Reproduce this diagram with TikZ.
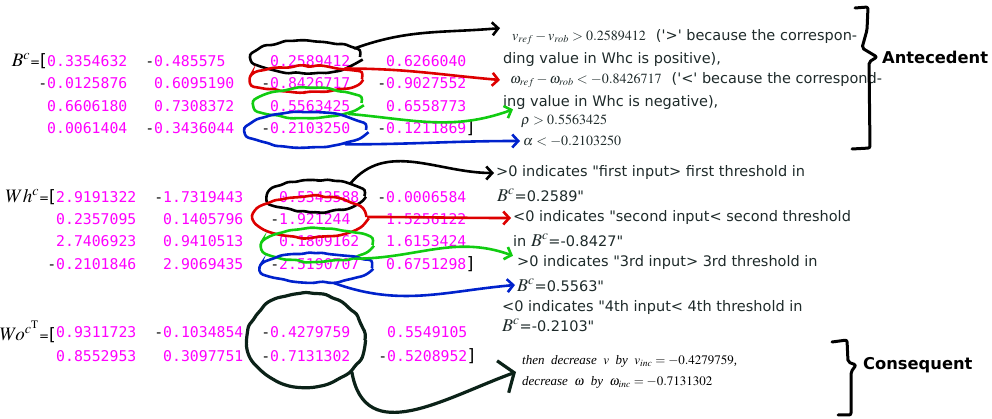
\documentclass[tikz,border=0pt]{standalone}
\usepackage{mathptmx}
\usepackage[no-math]{fontspec}
\setmainfont{DejaVu Sans}
\newfontfamily\numfont{DejaVu Sans Mono}
\newfontfamily\timesfont{Liberation Serif}
\usepackage{tikz}
\usetikzlibrary{shapes.geometric,arrows.meta,decorations.pathmorphing}

\definecolor{entrymag}{HTML}{FF00FF}
\definecolor{inkred}{HTML}{DD0000}
\definecolor{inkgreen}{HTML}{11CC11}
\definecolor{inkblue}{HTML}{0022CC}
\definecolor{inkdark}{HTML}{0B2218}
\definecolor{note}{HTML}{1E2A2A}

\newcommand{\negsign}{\llap{\textcolor{black}{-}}}
\newcommand{\notesize}{\fontsize{14.5}{17}\selectfont}
\newcommand{\mathsize}{\fontsize{14}{16}\selectfont}
\newcommand{\Bc}{{\fontsize{18}{20}\selectfont$B^{c}$}}
\newcommand{\dq}{\textquotedbl}

\begin{document}
\begin{tikzpicture}[
    x=1pt, y=1pt,
    entry/.style={anchor=west, inner sep=0pt, text=entrymag, font=\numfont\fontsize{14.8}{17}\selectfont},
    mlabel/.style={anchor=east, inner sep=0pt, font=\fontsize{19}{21}\selectfont},
    line/.style={anchor=west, inner sep=0pt, text=note, font=\notesize},
    ring/.style={ellipse, draw=#1, line width=2.6pt, inner sep=0pt,
        decorate, decoration={random steps, segment length=7pt, amplitude=1.2pt}, rounded corners=3pt},
    ink/.style={draw=#1, line width=2.6pt, line cap=round, line join=round,
        -{Straight Barb[length=6pt, width=13pt]}},
    brace/.style={draw=black, line width=3pt, line cap=round, line join=round, rounded corners=2pt}
]
\pgfmathsetseed{42}
\useasboundingbox (0,0) rectangle (992,419);

% B^c
\foreach \r/\y/\a/\b/\c/\d in {
    1/358/0.3354632/\negsign 0.485575/0.2589412/0.6266040,
    2/336/\negsign 0.0125876/0.6095190/\negsign 0.8426717/\negsign 0.9027552,
    3/313/0.6606180/0.7308372/0.5563425/0.6558773,
    4/291/0.0061404/\negsign 0.3436044/\negsign 0.2103250/\negsign 0.1211869}{
  \node[entry] (b\r1) at (47,\y) {\a};
  \node[entry] (b\r2) at (154,\y) {\b};
  \node[entry] (b\r3) at (270,\y) {\c};
  \node[entry] (b\r4) at (386,\y) {\d};
}
\node[mlabel] (lblb) at (b11.west) {$B^{c}$\fontsize{12}{14}\selectfont=\fontsize{17}{19}\selectfont[};
\node[anchor=west, inner sep=0pt, font=\fontsize{17}{19}\selectfont] (endb) at (b44.east) {]};

% Wh^c
\foreach \r/\y/\a/\b/\c/\d in {
    1/222/2.9191322/\negsign 1.7319443/0.5343588/\negsign 0.0006584,
    2/200/0.2357095/0.1405796/\negsign 1.921244/1.5256122,
    3/178/2.7406923/0.9410513/0.1809162/1.6153424,
    4/155/\negsign 0.2101846/2.9069435/\negsign 2.5190707/0.6751298}{
  \node[entry] (w\r1) at (56,\y) {\a};
  \node[entry] (w\r2) at (163,\y) {\b};
  \node[entry] (w\r3) at (279,\y) {\c};
  \node[entry] (w\r4) at (386,\y) {\d};
}
\node[mlabel] (lblw) at (w11.west) {$Wh^{c}$\fontsize{12}{14}\selectfont=\fontsize{17}{19}\selectfont[};
\node[anchor=west, inner sep=0pt, font=\fontsize{17}{19}\selectfont] (endw) at (w44.east) {]};

% Wo^cT
\foreach \r/\y/\a/\b/\c/\d in {
    1/87/0.9311723/\negsign 0.1034854/\negsign 0.4279759/0.5549105,
    2/63/0.8552953/0.3097751/\negsign 0.7131302/\negsign 0.5208952}{
  \node[entry] (o\r1) at (56,\y) {\a};
  \node[entry] (o\r2) at (163,\y) {\b};
  \node[entry] (o\r3) at (270,\y) {\c};
  \node[entry] (o\r4) at (387,\y) {\d};
}
\node[mlabel] (lblo) at (o11.west) {$Wo^{c^{\mathrm{T}}}$\fontsize{12}{14}\selectfont=\fontsize{17}{19}\selectfont[};
\node[anchor=west, inner sep=0pt, font=\fontsize{17}{19}\selectfont] (endo) at (o24.east) {]};

% antecedent notes
\node[line] (tv) at (512,382) {{\mathsize$v_{ref}-v_{rob}>0.2589412$}\hspace{10pt}(\textquotesingle>\textquotesingle{} because the correspon-};
\node[line] (tv2) at (503,359) {ding value in Whc is positive),};
\node[line] (tw) at (510,339) {{\mathsize$\omega_{ref}-\omega_{rob}<-0.8426717$}\hspace{10pt}(\textquotesingle<\textquotesingle{} because the correspond-};
\node[line] (tw2) at (503,316) {ing value in Whc is negative),};
\node[line] (trho) at (521,298) {\mathsize$\rho>0.5563425$};
\node[line] (talpha) at (523,278) {\mathsize$\alpha<-0.2103250$};

\node[line] (t1) at (496,246) {>0 indicates \dq first input> first threshold in};
\node[line] (t2) at (497,224) {\Bc=0.2589\dq};
\node[line] (t3) at (513,201) {<0 indicates \dq second input< second threshold};
\node[line] (t4) at (513,179) {in \Bc=-0.8427\dq};
\node[line] (t5) at (517,156) {>0 indicates \dq 3rd input> 3rd threshold in};
\node[line] (t6) at (517,134) {\Bc=0.5563\dq};
\node[line] (t7) at (502,111) {<0 indicates \dq 4th input< 4th threshold in};
\node[line] (t8) at (502,94) {\Bc=-0.2103\dq};

% consequent note
\node[line, align=left, text=black, font=\timesfont\itshape\fontsize{13}{21}\selectfont] (tcons) at (522,47)
  {then\ \ decrease\ \ $v$\ \ by\ \ $v_{inc}=-0.4279759$,\\decrease\ \ $\omega$\ \ by\ \ $\omega_{inc}=-0.7131302$};

\node[anchor=west, inner sep=0pt, font=\bfseries\fontsize{16.3}{19}\selectfont] (ante) at (882,362) {Antecedent};
\node[anchor=west, inner sep=0pt, font=\bfseries\fontsize{16.3}{19}\selectfont] (cons) at (863,54) {Consequent};

% hand drawn loops
\node[ring=black, minimum width=108pt, minimum height=33pt] (lb1) at (306,362) {};
\node[ring=inkred, minimum width=112pt, minimum height=26pt] (lr1) at (306,340) {};
\node[ring=inkgreen, minimum width=107pt, minimum height=30pt] (lg1) at (308,316) {};
\node[ring=inkblue, minimum width=120pt, minimum height=35pt] (lu1) at (306,289) {};

\node[ring=black, minimum width=97pt, minimum height=32pt] (lb2) at (316,223) {};
\node[ring=inkred, minimum width=113pt, minimum height=42pt] (lr2) at (310,202) {};
\node[ring=inkgreen, minimum width=111pt, minimum height=34pt] (lg2) at (317,174) {};
\node[ring=inkblue, minimum width=112pt, minimum height=29pt] (lu2) at (316,151) {};

\node[ring=inkdark, line width=3.2pt, minimum width=118pt, minimum height=95pt] (lo) at (306,79) {};

% arrows to the notes
\draw[ink=black] (lb1.10) to[out=20,in=185] ([xshift=-12pt,yshift=1pt]tv.north west);
\draw[ink=inkred] (lr1.15) to[out=0,in=175] ([xshift=-10pt]tw.west);
\draw[ink=inkgreen] (lg1.-15) to[out=-5,in=200] ([xshift=-8pt,yshift=5pt]trho.north west);
\draw[ink=inkblue] (lu1.-20) to[out=0,in=180] ([xshift=-3pt]talpha.west);

\draw[ink=black] (lb2.20) to[out=50,in=180] ([xshift=-2pt]t1.west);
\draw[ink=inkred] (lr2.east) to[out=0,in=180] ([xshift=-2pt]t3.west);
\draw[ink=inkgreen] (lg2.-20) to[out=0,in=160] ([xshift=-4pt]t5.north west);
\draw[ink=inkblue] (lu2.-40) to[out=-20,in=185] ([xshift=-2pt]t6.west);

\draw[ink=inkdark, line width=3.2pt, -{Straight Barb[length=12pt, width=34pt]}]
  (lo.-35) to[out=-80,in=200,looseness=1.2] ([xshift=-6pt]tcons.west);

% braces
\draw[brace] (855,411) -- (868,412) -- (867,389) -- (862,371) -- ([xshift=-5pt]ante.west)
  -- (869,357) -- (870,271) -- (852,270);
\draw[brace] (832,77) -- (847,79) -- (848,57) -- ([xshift=-7pt]cons.west)
  -- (851,47) -- (851,4) -- (838,4);
\end{tikzpicture}
\end{document}
